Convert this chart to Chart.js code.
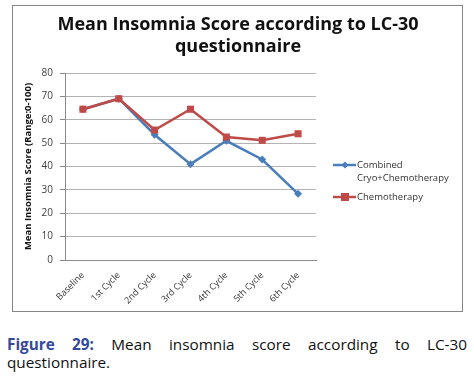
<!DOCTYPE html>
<html>
<head>
<meta charset="utf-8">
<script src="https://cdn.jsdelivr.net/npm/chart.js@4/dist/chart.umd.min.js"></script>
<style>
  html, body { margin: 0; padding: 0; background: #fff; }
  body { width: 474px; height: 376px; position: relative; overflow: hidden; }
  #wrap { position: absolute; left: 0; top: 0; width: 474px; height: 320px; }
  #frame { position: absolute; left: 12px; top: 5px; width: 449px; height: 305px; border: 1.5px solid #858585; pointer-events: none; }
  #caption { position: absolute; left: 7px; top: 335px; width: 460px; font-family: "Open Sans", sans-serif; font-size: 15.3px; line-height: 18px; color: #111; text-align: justify; text-align-last: left; }
  #caption b { color: #34499a; }
</style>
</head>
<body>
<div id="wrap"><canvas id="c" width="474" height="320"></canvas></div>
<div id="frame"></div>
<div id="caption"><b>Figure 29:</b> Mean insomnia score according to LC-30 questionnaire.</div>
<script>
const categories = ["Baseline", "1st Cycle", "2nd Cycle", "3rd Cycle", "4th Cycle", "5th Cycle", "6th Cycle"];
const combinedValues = [64.5, 69, 53.6, 41, 51, 43, 28.3];
const chemoValues = [64.5, 69, 55.6, 64.5, 52.6, 51.2, 54];
const yTicks = [0, 10, 20, 30, 40, 50, 60, 70, 80];
const seriesNames = ["Combined\nCryo+Chemotherapy", "Chemotherapy"];
const titleLines = ["Mean Insomnia Score according to LC-30", "questionnaire"];
const yTitle = "Mean Insomnia Score (Range:0-100)";

const BLUE = "#4a7ebb";
const RED = "#be4b48";

const titlePlugin = {
  id: "centerTitle",
  afterDraw(chart) {
    const ctx = chart.ctx;
    ctx.save();
    ctx.font = "bold 18px 'Open Sans', sans-serif";
    ctx.fillStyle = "#111";
    ctx.textAlign = "center";
    ctx.textBaseline = "middle";
    titleLines.forEach((t, i) => ctx.fillText(t, 238, 25 + i * 22));
    ctx.restore();
  }
};

const legendPlugin = {
  id: "sideLegend",
  afterDraw(chart) {
    const ctx = chart.ctx;
    const items = chart.data.datasets.map(ds => ({ label: ds.label, color: ds.borderColor, style: ds.pointStyle }));
    const ys = [165, 197];
    ctx.save();
    ctx.font = "9.5px 'Open Sans', sans-serif";
    ctx.textBaseline = "middle";
    items.forEach((it, i) => {
      const y = ys[i];
      ctx.strokeStyle = it.color;
      ctx.lineWidth = 2.5;
      ctx.beginPath(); ctx.moveTo(333, y); ctx.lineTo(356, y); ctx.stroke();
      ctx.fillStyle = it.color;
      if (it.style === "rectRot") {
        ctx.beginPath(); ctx.moveTo(345, y - 3.5); ctx.lineTo(348.5, y); ctx.lineTo(345, y + 3.5); ctx.lineTo(341.5, y); ctx.closePath(); ctx.fill();
      } else {
        ctx.fillRect(341, y - 4, 8, 8);
      }
      ctx.fillStyle = "#333";
      const lines = it.label.split("\n");
      lines.forEach((ln, k) => ctx.fillText(ln, 357, y + k * 13));
    });
    ctx.restore();
  }
};

new Chart(document.getElementById("c"), {
  type: "line",
  data: {
    labels: categories,
    datasets: [
      { label: seriesNames[0], data: combinedValues, borderColor: BLUE, backgroundColor: BLUE, borderWidth: 2.5,
        pointStyle: "rectRot", pointRadius: 4, pointBorderWidth: 0, pointBackgroundColor: BLUE, tension: 0, order: 1 },
      { label: seriesNames[1], data: chemoValues, borderColor: RED, backgroundColor: RED, borderWidth: 2.5,
        pointStyle: "rect", pointRadius: 5, pointBorderWidth: 0, pointBackgroundColor: RED, tension: 0, order: 0 }
    ]
  },
  options: {
    responsive: false,
    animation: false,
    events: [],
    layout: { padding: { left: 12, right: 158, top: 73, bottom: 10 } },
    plugins: {
      legend: { display: false },
      tooltip: { enabled: false },
      title: { display: false }
    },
    scales: {
      x: {
        offset: true,
        grid: { display: false },
        border: { display: true, color: "#8a8a8a", width: 1 },
        ticks: { autoSkip: false, minRotation: 45, maxRotation: 45, color: "#333", padding: 2,
                 font: { family: "'Open Sans', sans-serif", size: 9 } },
        afterFit(scale) { scale.height = 50; }
      },
      y: {
        min: 0, max: 80,
        afterBuildTicks(scale) { scale.ticks = yTicks.map(v => ({ value: v })); },
        grid: { color: "#b3b3b3", lineWidth: 1, tickLength: 5, tickColor: "#8a8a8a" },
        border: { display: true, color: "#8a8a8a", width: 1 },
        ticks: { color: "#404040", padding: 7, font: { family: "'Open Sans', sans-serif", size: 10 } },
        title: { display: true, text: yTitle, color: "#111", padding: { top: 11, bottom: 0 },
                 font: { family: "'Open Sans', sans-serif", size: 9.5, weight: "bold" } },
        afterFit(scale) { scale.width = 53; }
      }
    }
  },
  plugins: [legendPlugin, titlePlugin]
});
</script>
</body>
</html>
